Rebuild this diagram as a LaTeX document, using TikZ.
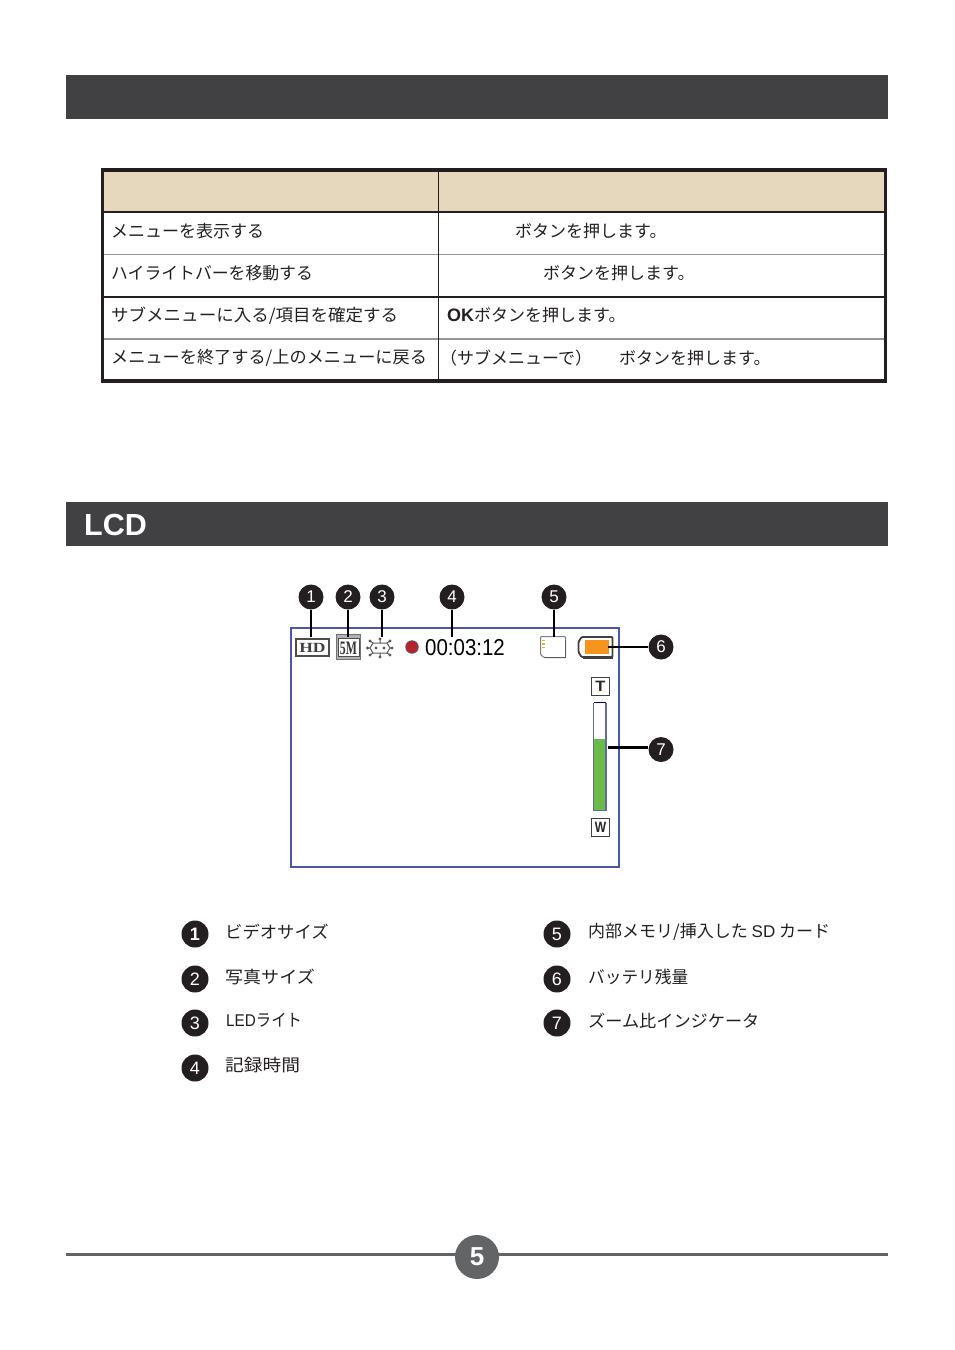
\documentclass[tikz,border=0pt]{standalone}
\usepackage{fontspec}
\setmainfont{Liberation Sans}
\newfontfamily\cjk{Noto Sans CJK JP}
\newfontfamily\slabfont{Liberation Serif}
\newcommand{\sx}[2]{\scalebox{#1}[1]{#2}}
\definecolor{barcol}{HTML}{414042}
\definecolor{headcol}{HTML}{E5D8BC}
\definecolor{framecol}{HTML}{4A56A6}
\definecolor{pagecol}{HTML}{636466}
\definecolor{inkcol}{HTML}{231F20}
\definecolor{rulecol}{HTML}{939598}
\definecolor{zoomgreen}{HTML}{69BD45}
\definecolor{battorange}{HTML}{F7941E}
\definecolor{recred}{HTML}{BE1E2D}
\tikzset{
  x=1pt,y=-1pt,
  titlebar/.style={fill=barcol,draw=none},
  celltext/.style={anchor=west,inner sep=0pt,text=inkcol,font=\fontsize{17}{17}\selectfont\cjk},
  legendtext/.style={celltext},
  callout/.style={circle,fill=inkcol,text=white,inner sep=0pt,minimum size=25pt,font=\fontsize{17}{17}\selectfont},
  legendball/.style={circle,fill=inkcol,text=white,inner sep=0pt,minimum size=27pt,font=\fontsize{18}{18}\selectfont},
  leader/.style={draw=black,line width=2.6pt},
  thickrule/.style={draw=inkcol,line width=2.2pt},
  thinrule/.style={draw=rulecol,line width=1.2pt},
  greyrule/.style={draw=rulecol,line width=2pt},
  iconline/.style={draw=black!65,line width=1pt},
}
\begin{document}
\begin{tikzpicture}
\useasboundingbox (0,0) rectangle (954,1350);
% title bars
\fill[titlebar] (66,75) rectangle (888,119);
\fill[titlebar] (66,502) rectangle (888,546);
\node[anchor=west,inner sep=0pt,text=white,font=\fontsize{30.5}{30.5}\selectfont\bfseries] (lcdtitle) at (84,525) {LCD};
% table
\fill[headcol] (102.5,170) rectangle (885,212);
\draw[thinrule] (102.5,254.3) -- (885.5,254.3);
\draw[greyrule] (102.5,339) -- (885.5,339);
\draw[thickrule] (102.5,211.7) -- (885.5,211.7);
\draw[thickrule] (102.5,296.7) -- (885.5,296.7);
\draw[draw=inkcol,line width=1.2pt] (438.3,170) -- (438.3,381);
\draw[draw=inkcol,line width=3.2pt] (102.5,170) rectangle (885.5,381);
\node[celltext] (a1) at (111,231) {メニューを表示する};
\node[celltext] (a2) at (111,273.5) {\sx{.99}{ハイライトバーを移動する}};
\node[celltext] (a3) at (111,315.5) {\sx{1.03}{サブメニューに入る/項目を確定する}};
\node[celltext] (a4) at (111,358) {\sx{1.01}{メニューを終了する/上のメニューに戻る}};
\node[celltext] (b1) at (515,231) {ボタンを押します。};
\node[celltext] (b2) at (543,273.5) {ボタンを押します。};
\node[celltext] (b3) at (447,315.5) {{\rmfamily\bfseries\fontsize{18}{18}\selectfont OK}ボタンを押します。};
\node[celltext] (b4) at (440,358) {（サブメニューで）};
\node[celltext] (b5) at (619,358) {ボタンを押します。};
% LCD frame
\draw[draw=framecol,line width=2pt] (291,628) rectangle (618.5,867);
% HD icon
\draw[draw=black!70,line width=1.8pt,fill=white] (296,639) rectangle (329,656);
\node[inner sep=0pt,text=black!75,font=\fontsize{14}{14}\selectfont\bfseries\slabfont] (hd) at (312.5,647.5) {\sx{1.25}{HD}};
% 5M icon
\fill[black!30] (336,634) rectangle (361,660);
\draw[draw=black!55,line width=1pt] (336.5,634.5) rectangle (360.5,659.5);
\draw[draw=black!70,line width=.8pt,fill=white] (338,638) rectangle (359,656);
\node[inner sep=0pt,text=black!80,font=\fontsize{19}{19}\selectfont\bfseries\slabfont] (fivem) at (348.5,648) {\sx{.62}{5M}};
% LED icon
\draw[iconline] (373,643) -- (387,643) -- (390,648) -- (387,653) -- (373,653) -- (370,648) -- cycle;
\draw[iconline] (370,641) -- (373,643) (380,639) -- (380,643) (390,641) -- (387,643) (392,648) -- (390,648)
  (390,655) -- (387,653) (380,657) -- (380,653) (370,655) -- (373,653) (367.5,648) -- (370,648);
\foreach \px/\py in {370/641,380/639,390/641,392/648,390/655,380/657,370/655,367.5/648,376/648,384/648}
  \fill[black!65] (\px,\py) circle (1.7);
% record dot
\draw[draw=black!65,line width=1pt,fill=recred] (412,647) circle (6.2);
\node[anchor=west,inner sep=0pt,text=black,font=\fontsize{23}{23}\selectfont] (timer) at (425,648) {\sx{.89}{00:03:12}};
% SD card
\draw[draw=black!50,line width=1pt,fill=white,rounded corners=.8pt] (540.5,636.5) -- (565.5,636.5) -- (565.5,657.5) -- (544,657.5) -- (540.5,654.5) -- cycle;
\draw[draw=black!65,line width=1.2pt] (544,657.8) -- (565.5,657.8) -- (565.5,640);
\foreach \py in {640.5,644,647.5} \draw[draw=yellow!75!black,line width=1.2pt] (541.5,\py) -- (545,\py);
% battery
\draw[draw=black!75,line width=1.8pt,fill=white,rounded corners=1pt] (581.5,637) -- (612.5,637) -- (612.5,657) -- (581.5,657) -- (578.5,652) -- (578.5,642) -- cycle;
\draw[draw=black!75,line width=1.6pt] (583,657.8) -- (612.5,657.8);
\fill[battorange] (585,640) rectangle (609,653.5);
% zoom bar
\draw[draw=black!75,line width=1pt,fill=white] (591.5,677.5) rectangle (609.5,695.5);
\node[inner sep=0pt,text=black!85,font=\fontsize{15}{15}\selectfont\bfseries] (tee) at (600.5,686.5) {\sx{1.1}{T}};
\fill[zoomgreen] (593.5,739) rectangle (606,810.5);
\draw[draw=blue!45!black,line width=1pt] (593.5,702.5) -- (606,702.5);
\draw[draw=black!55!blue!60,line width=1.2pt] (593.5,702.5) -- (593.5,810.5) -- (606,810.5) -- (606,702.5);
\draw[draw=black!75,line width=1pt,fill=white] (591.5,818.5) rectangle (609.5,836);
\node[inner sep=0pt,text=black!85,font=\fontsize{15}{15}\selectfont\bfseries] (dub) at (600.5,827.5) {\sx{.8}{W}};
% callouts
\node[callout] (c1) at (311,597) {1};
\node[callout] (c2) at (348,597) {2};
\node[callout] (c3) at (382,597) {3};
\node[callout] (c4) at (452,597) {4};
\node[callout] (c5) at (554,597) {5};
\node[callout] (c6) at (661,647) {6};
\node[callout] (c7) at (661,749.5) {7};
\coordinate (e1) at (311,637);
\coordinate (e2) at (348,637);
\coordinate (e3) at (382,637);
\coordinate (e4) at (452,637);
\coordinate (e5) at (554,637);
\coordinate (e6) at (608,647);
\coordinate (e7) at (608,747.5);
\draw[leader] (c1) -- (e1);
\draw[leader] (c2) -- (e2);
\draw[leader] (c3) -- (e3);
\draw[leader] (c4) -- (e4);
\draw[leader] (c5) -- (e5);
\draw[leader] (c6) -- (e6);
\draw[leader] (c7.west |- e7) -- (e7);
% legend
\node[legendball] (l1) at (195,934) {\bfseries 1};
\node[legendball] (l2) at (195,979) {2};
\node[legendball] (l3) at (195,1023) {3};
\node[legendball] (l4) at (195,1068) {4};
\node[legendball] (l5) at (557,934) {5};
\node[legendball] (l6) at (557,979) {6};
\node[legendball] (l7) at (557,1023) {7};
\node[legendtext] (t1) at (225,931.5) {\sx{1.02}{ビデオサイズ}};
\node[legendtext] (t2) at (225,976.5) {\sx{1.06}{写真サイズ}};
\node[legendtext] (t3) at (226,1020.5) {\sx{.9}{{\rmfamily LED}ライト}};
\node[legendtext] (t4) at (225,1065.5) {\sx{1.1}{記録時間}};
\node[legendtext] (t5) at (588,931.5) {内部メモリ/挿入した {\rmfamily SD} カード};
\node[legendtext] (t6) at (588,976.5) {\sx{.98}{バッテリ残量}};
\node[legendtext] (t7) at (588,1020.5) {\sx{1.01}{ズーム比インジケータ}};
% page number
\draw[draw=pagecol,line width=3pt] (66,1254.5) -- (888,1254.5);
\node[circle,fill=pagecol,text=white,inner sep=0pt,minimum size=44pt,font=\fontsize{26}{26}\selectfont\bfseries] (pg) at (477,1257) {5};
\end{tikzpicture}
\end{document}
